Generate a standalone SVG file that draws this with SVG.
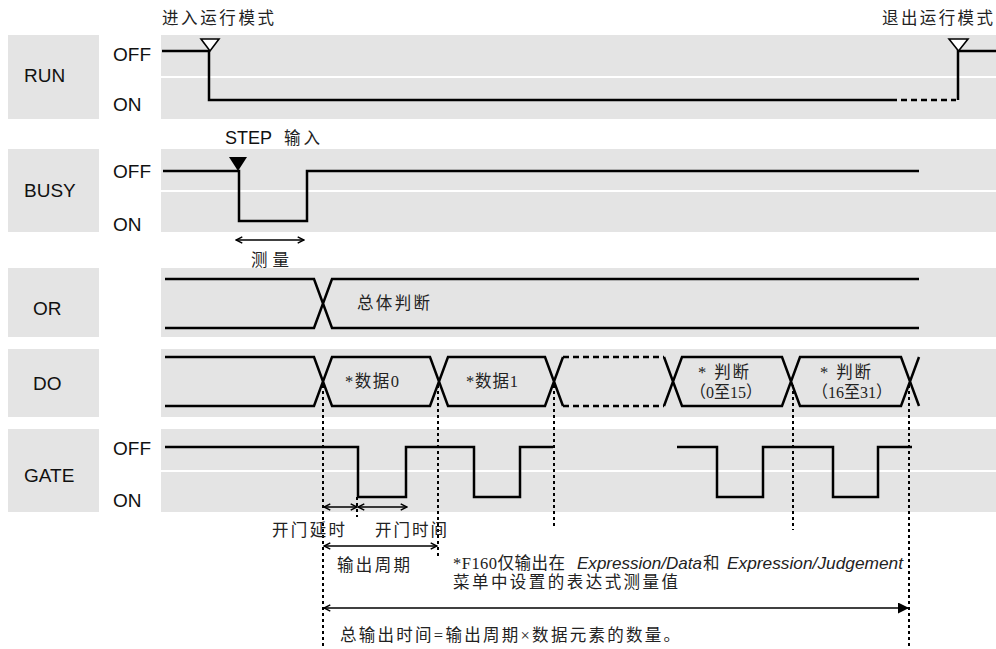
<svg xmlns="http://www.w3.org/2000/svg" width="996" height="649" viewBox="0 0 996 649">
<style>
.bg{fill:#e4e4e4}
.sep{stroke:#fff;stroke-width:2}
.lbl{font-family:"Liberation Sans",Arial,sans-serif;font-size:19px;fill:#111}
.cn{font-family:"Liberation Serif","Noto Sans CJK SC",serif;font-size:16.5px;fill:#222}
.it{font-family:"Liberation Sans",Arial,sans-serif;font-style:italic;font-size:17px;fill:#222}
.sig{fill:none;stroke:#000;stroke-width:2.5;stroke-linejoin:miter}
.dash{fill:none;stroke:#000;stroke-width:2.5;stroke-dasharray:6 4}
.dot{fill:none;stroke:#000;stroke-width:2;stroke-dasharray:3 3}
.arr{fill:none;stroke:#000;stroke-width:1.6}
</style>
<defs>
<marker id="op" viewBox="0 0 10 10" refX="9" refY="5" markerWidth="9" markerHeight="9" orient="auto-start-reverse" markerUnits="userSpaceOnUse"><path d="M2,1.5 L9,5 L2,8.5" fill="none" stroke="#000" stroke-width="1.6"/></marker>
<marker id="fi" viewBox="0 0 10 10" refX="10" refY="5" markerWidth="11" markerHeight="11" orient="auto" markerUnits="userSpaceOnUse"><path d="M0,0 L10,5 L0,10 z" fill="#000"/></marker>
</defs>

<g id="row-run">
<rect class="bg" x="8" y="35" width="91" height="84"/>
<rect class="bg" x="161" y="35" width="835" height="84"/>
<line class="sep" x1="161" y1="77" x2="996" y2="77"/>
<text class="lbl" x="24" y="82">RUN</text>
<text class="lbl" x="113" y="61">OFF</text>
<text class="lbl" x="113" y="111">ON</text>
<path class="sig" d="M162,51 H209 V100 H897"/>
<path class="dash" d="M901,100 H956" stroke-dasharray="3 3"/>
<path class="sig" d="M958,100 V51 H996"/>
<path d="M201,39 H219 L210,51 Z" fill="#fff" stroke="#000" stroke-width="1.6"/>
<path d="M949,39 H968 L958.5,51 Z" fill="#fff" stroke="#000" stroke-width="1.6"/>
<text class="cn" x="162" y="24" textLength="112" lengthAdjust="spacing">进入运行模式</text>
<text class="cn" x="882" y="24" textLength="111" lengthAdjust="spacing">退出运行模式</text>
</g>

<g id="row-busy">
<rect class="bg" x="8" y="149" width="91" height="83"/>
<rect class="bg" x="161" y="149" width="835" height="83"/>
<line class="sep" x1="161" y1="191" x2="996" y2="191"/>
<text class="lbl" x="24" y="197">BUSY</text>
<text class="lbl" x="113" y="178">OFF</text>
<text class="lbl" x="113" y="231">ON</text>
<path class="sig" d="M163,171 H239 V221 H307 V171 H919"/>
<path d="M229,157 H247 L238,171 Z" fill="#000"/>
<text class="lbl" x="225" y="144" style="font-size:18px">STEP</text>
<text class="cn" x="284" y="144" textLength="36" lengthAdjust="spacing">输入</text>
<text class="cn" x="251" y="266" textLength="38" lengthAdjust="spacing">测量</text>
</g>

<g id="row-or">
<rect class="bg" x="8" y="268" width="91" height="69"/>
<rect class="bg" x="161" y="268" width="835" height="69"/>
<text class="lbl" x="33" y="315">OR</text>
<path class="sig" d="M165,279 H314 L332,328 H919 M165,328 H314 L332,279 H919"/>
<text class="cn" x="357" y="309" textLength="73" lengthAdjust="spacing">总体判断</text>
</g>

<g id="row-do">
<rect class="bg" x="8" y="349" width="91" height="68"/>
<rect class="bg" x="161" y="349" width="835" height="68"/>
<text class="lbl" x="33" y="390">DO</text>
<path class="sig" d="M165,357 H314 L332,406 H430 L448,357 H545 L563,406 M165,406 H314 L332,357 H430 L448,406 H545 L563,357"/>
<path class="dash" d="M563,357 H664 M563,406 H664"/>
<path class="sig" d="M664,357 L682,406 H782 L800,357 H901 L919,406 M664,406 L682,357 H782 L800,406 H901 L919,357"/>
<text class="cn" x="345" y="387" textLength="54" lengthAdjust="spacing">*数据0</text>
<text class="cn" x="466" y="387" textLength="52" lengthAdjust="spacing">*数据1</text>
<text class="cn" x="698" y="378" textLength="51" lengthAdjust="spacing">* 判断</text>
<text class="cn" x="690" y="398" textLength="72" lengthAdjust="spacingAndGlyphs">（0至15）</text>
<text class="cn" x="812" y="398" textLength="80" lengthAdjust="spacingAndGlyphs">（16至31）</text>
<text class="cn" x="820" y="378" textLength="51" lengthAdjust="spacing">* 判断</text>
</g>

<g id="row-gate">
<rect class="bg" x="8" y="429" width="91" height="83"/>
<rect class="bg" x="161" y="429" width="835" height="83"/>
<line class="sep" x1="161" y1="471" x2="996" y2="471"/>
<text class="lbl" x="24" y="482">GATE</text>
<text class="lbl" x="113" y="455">OFF</text>
<text class="lbl" x="113" y="507">ON</text>
<path class="sig" d="M165,447 H358 V497 H406 V447 H474 V497 H520 V447 H553"/>
<path class="sig" d="M677,447 H717 V497 H763 V447 H833 V497 H878 V447 H912"/>
</g>

<g id="connectors">
<path class="dot" d="M323,385 V649"/>
<path class="dot" d="M438,385 V557"/>
<path class="dot" d="M554,385 V527"/>
<path class="dot" d="M793,385 V530"/>
<path class="dot" d="M909,385 V649"/>
<path class="dot" d="M357,497 V517"/>
<path class="arr" d="M236,240 H304" marker-start="url(#op)" marker-end="url(#op)"/>
<path class="arr" d="M324,507 H357" marker-start="url(#op)" marker-end="url(#op)"/>
<path class="arr" d="M358,507 H407" marker-start="url(#op)" marker-end="url(#op)"/>
<path class="arr" d="M324,546 H437" marker-start="url(#op)" marker-end="url(#op)"/>
<path class="arr" d="M324,608 H909" marker-start="url(#op)" marker-end="url(#fi)"/>
</g>

<g id="notes">
<text class="cn" x="272" y="536" textLength="73" lengthAdjust="spacing">开门延时</text>
<text class="cn" x="375" y="536" textLength="72" lengthAdjust="spacing">开门时间</text>
<text class="cn" x="337" y="571" textLength="73" lengthAdjust="spacing">输出周期</text>
<text class="cn" x="453" y="569" textLength="112" lengthAdjust="spacing">*F160仅输出在</text>
<text class="it" x="577" y="569" textLength="125" lengthAdjust="spacingAndGlyphs">Expression/Data</text>
<text class="cn" x="703" y="569">和</text>
<text class="it" x="727" y="569" textLength="176" lengthAdjust="spacingAndGlyphs">Expression/Judgement</text>
<text class="cn" x="453" y="588" textLength="225" lengthAdjust="spacing">菜单中设置的表达式测量值</text>
<text class="cn" x="340" y="641" textLength="340" lengthAdjust="spacing">总输出时间=输出周期×数据元素的数量。</text>
</g>
</svg>
